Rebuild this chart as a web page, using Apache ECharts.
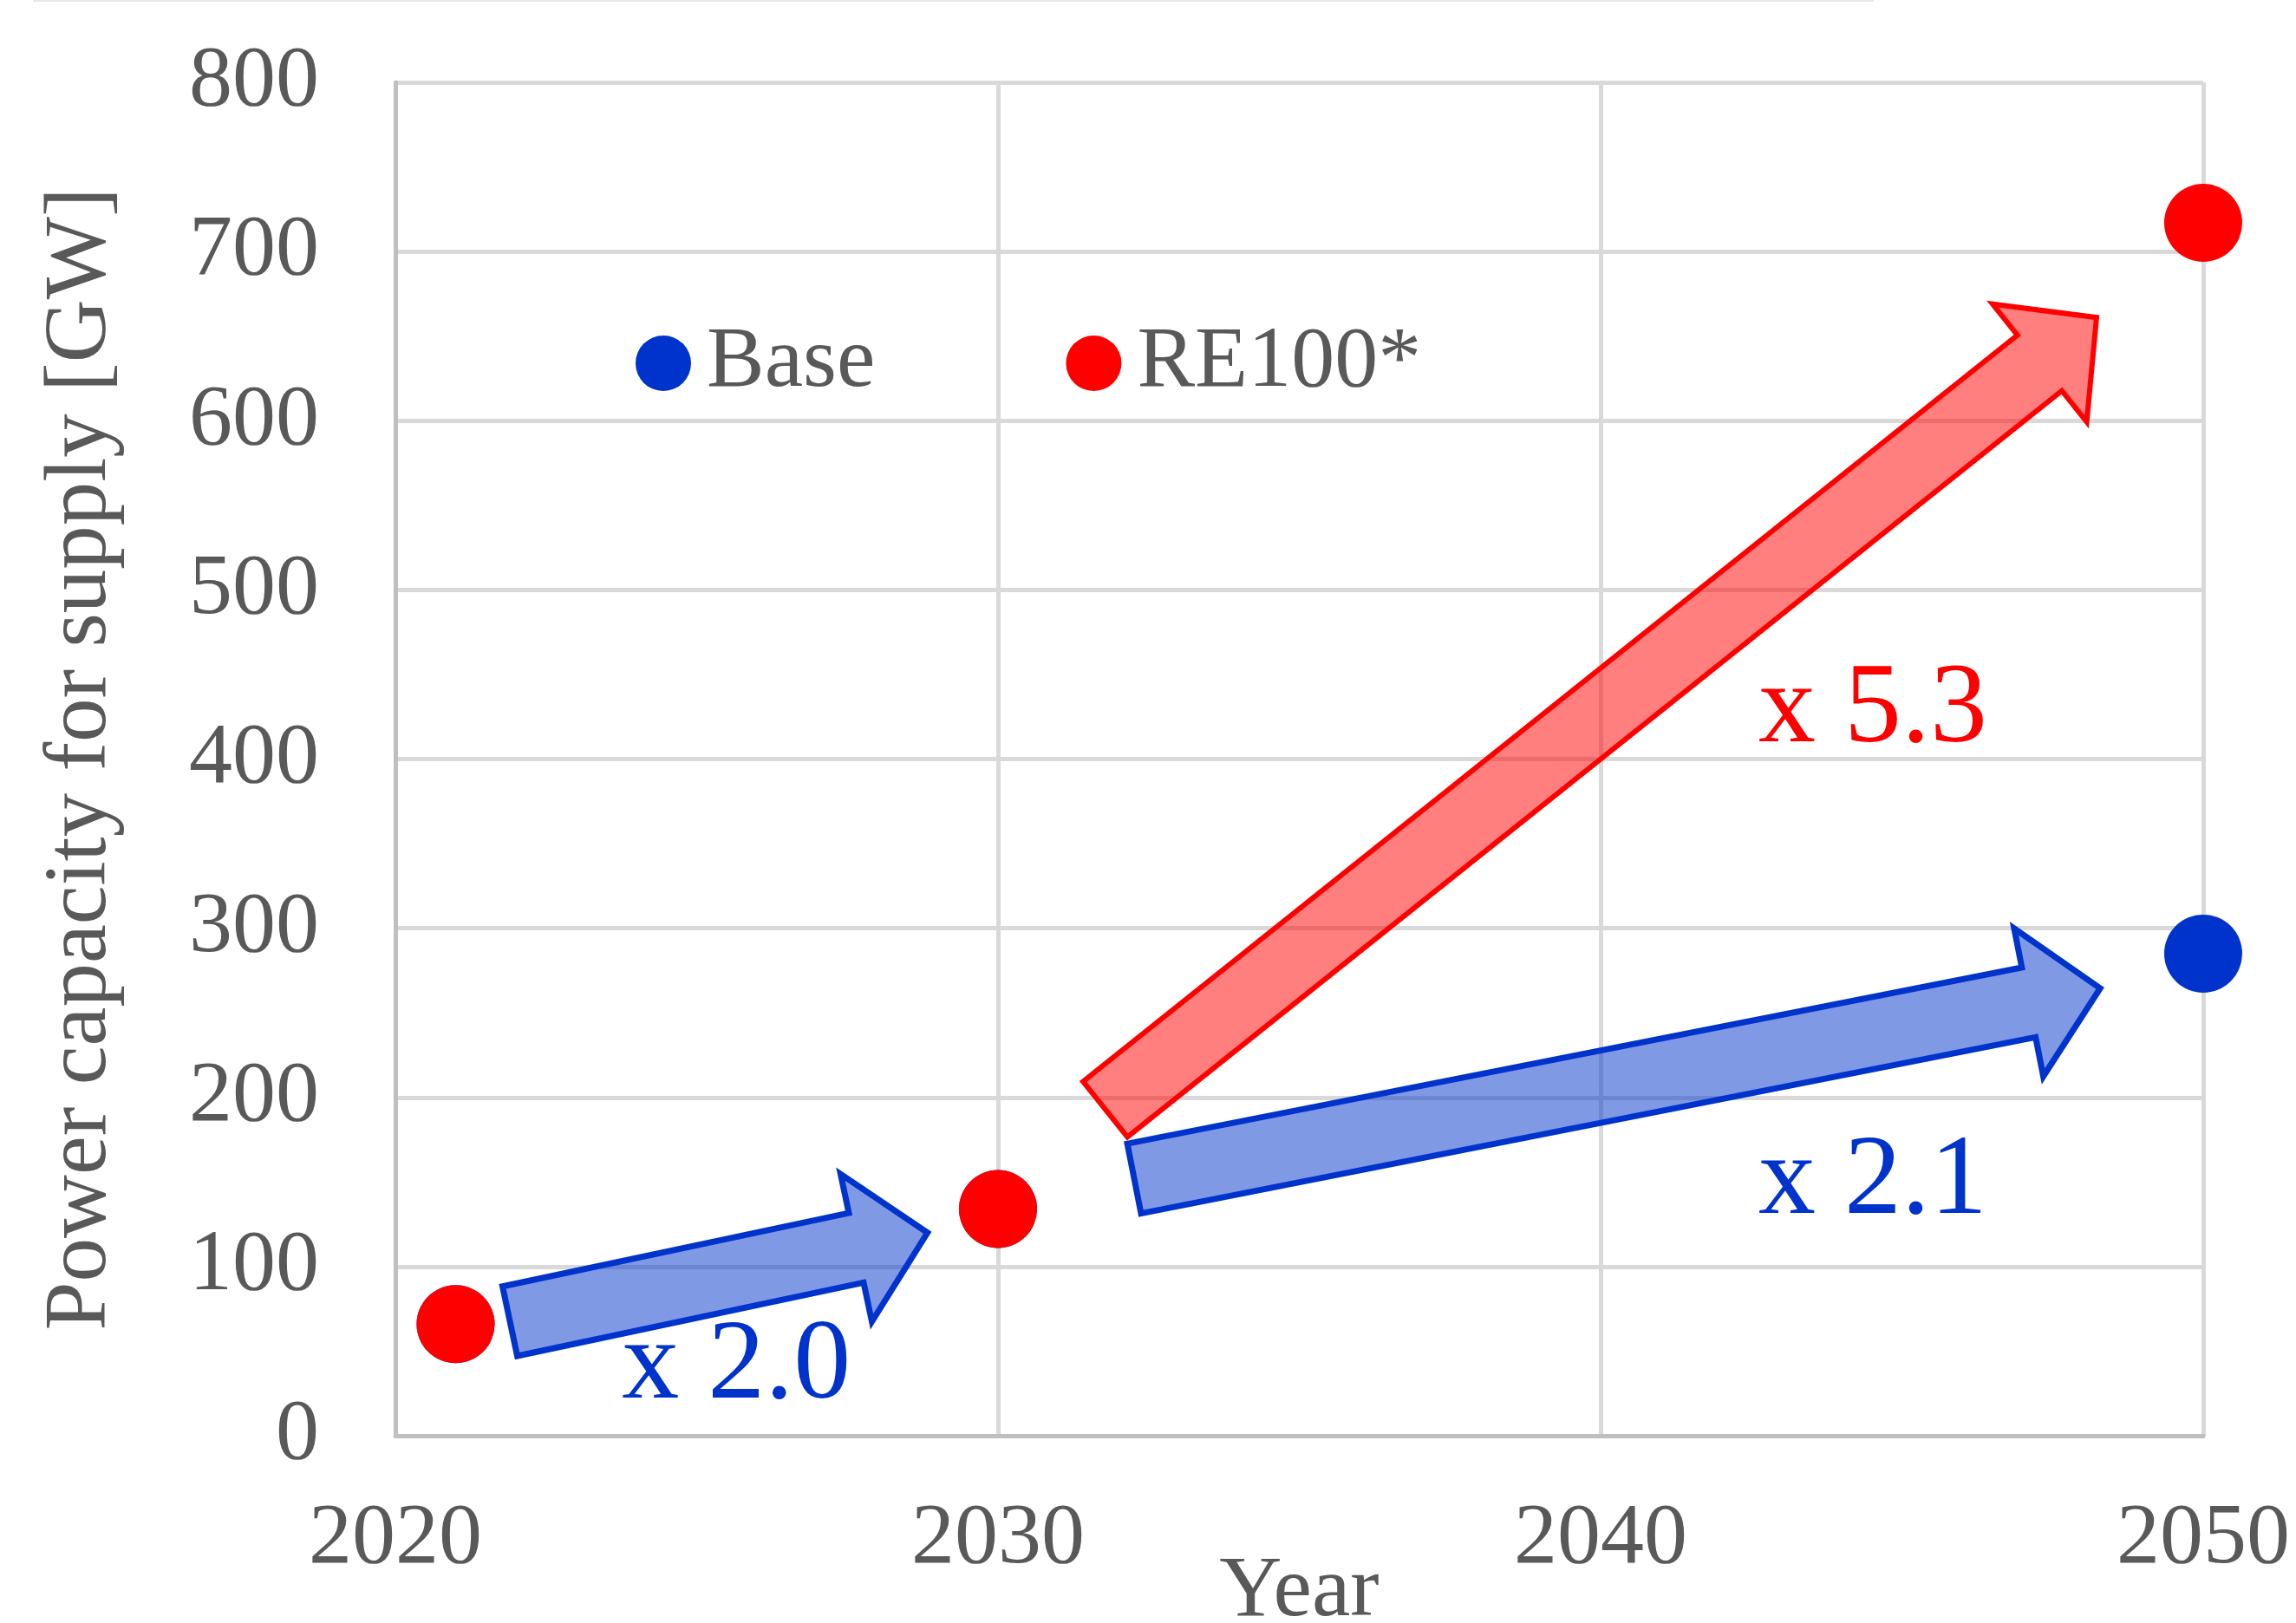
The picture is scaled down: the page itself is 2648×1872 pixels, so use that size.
<!DOCTYPE html>
<html>
<head>
<meta charset="utf-8">
<title>Power capacity for supply</title>
<script src="https://cdn.jsdelivr.net/npm/echarts@6/dist/echarts.min.js"></script>
<style>
  html, body { margin: 0; padding: 0; background: #fff; }
  #chart { width: 2648px; height: 1872px; }
</style>
</head>
<body>
<div id="chart"></div>
<script>
// data
const years = [2021, 2030, 2050];
const baseValues = [66, 134, 285];
const re100Values = [66, 134, 717];
const seriesNames = ['Base', 'RE100*'];
const xTicks = [2020, 2030, 2040, 2050];
const yTicks = [0, 100, 200, 300, 400, 500, 600, 700, 800];

// growth arrows (tail and tip in year / GW)
const arrowFrom = [[2021.9, 67.7], [2031.78, 193], [2032.26, 152]];
const arrowTo = [[2028.83, 120], [2048.23, 661], [2048.29, 264.5]];
const arrowKind = ['base', 're', 'base'];
const ratioText = ['x 2.0', 'x 5.3', 'x 2.1'];
const ratioAt = [[2023.76, 19], [2042.62, 407], [2042.62, 128]];
const ratioKind = ['base', 're', 'base'];

const FONT = '"Liberation Serif", "Times New Roman", serif';
const GREY = '#595959';
const COLORS = {
  base: { line: '#0033cc', fill: 'rgba(0, 51, 204, 0.5)' },
  re: { line: '#ff0000', fill: 'rgba(255, 0, 0, 0.5)' }
};

const chart = echarts.init(document.getElementById('chart'));

const option = {
  animation: false,
  backgroundColor: '#fff',
  grid: {
    left: 456, right: 107, top: 95, bottom: 216,
    containLabel: false,
    outerBoundsMode: 'none'
  },
  legend: {
    data: seriesNames,
    left: 728,
    top: 364,
    itemWidth: 64,
    itemHeight: 64,
    itemGap: 220,
    textStyle: { fontFamily: FONT, fontSize: 100, color: GREY, padding: [0, 0, 0, 13] }
  },
  xAxis: {
    type: 'value',
    min: xTicks[0],
    max: xTicks[xTicks.length - 1],
    interval: 10,
    name: 'Year',
    nameLocation: 'middle',
    nameGap: 131,
    nameMoveOverlap: false,
    nameTextStyle: { fontFamily: FONT, fontSize: 100, color: GREY },
    axisLine: { show: true, lineStyle: { color: '#bfbfbf', width: 5 } },
    axisTick: { show: false },
    axisLabel: {
      fontFamily: FONT, fontSize: 100, color: GREY, margin: 70,
      formatter: v => String(v)
    },
    splitLine: { show: true, lineStyle: { color: '#d9d9d9', width: 5 } }
  },
  yAxis: {
    type: 'value',
    min: yTicks[0],
    max: yTicks[yTicks.length - 1],
    interval: 100,
    name: 'Power capacity for supply [GW]',
    nameLocation: 'middle',
    nameGap: 311,
    nameMoveOverlap: false,
    nameTextStyle: { fontFamily: FONT, fontSize: 101, color: GREY },
    axisLine: { show: true, lineStyle: { color: '#bfbfbf', width: 5 } },
    axisTick: { show: false },
    axisLabel: { fontFamily: FONT, fontSize: 100, color: GREY, margin: 88 },
    splitLine: { show: true, lineStyle: { color: '#d9d9d9', width: 5 } }
  },
  series: [
    {
      name: seriesNames[0],
      type: 'scatter',
      symbol: 'circle',
      symbolSize: 90,
      itemStyle: { color: COLORS.base.line, opacity: 1 },
      data: years.map((y, i) => [y, baseValues[i]]),
      z: 2
    },
    {
      name: seriesNames[1],
      type: 'scatter',
      symbol: 'circle',
      symbolSize: 90,
      itemStyle: { color: COLORS.re.line, opacity: 1 },
      data: years.map((y, i) => [y, re100Values[i]]),
      z: 3
    }
  ]
};

chart.setOption(option);

// block arrow polygon from tail to tip, in pixels
const makeArrow = (from, to, kind) => {
  const t = chart.convertToPixel({ gridIndex: 0 }, from);
  const p = chart.convertToPixel({ gridIndex: 0 }, to);
  const dx = p[0] - t[0];
  const dy = p[1] - t[1];
  const len = Math.sqrt(dx * dx + dy * dy);
  const ux = dx / len, uy = dy / len;
  const nx = -uy, ny = ux;
  const shaft = 41, head = 87, headLen = 84;
  const bx = t[0] + ux * (len - headLen);
  const by = t[1] + uy * (len - headLen);
  const pts = [
    [t[0] + nx * shaft, t[1] + ny * shaft],
    [bx + nx * shaft, by + ny * shaft],
    [bx + nx * head, by + ny * head],
    [p[0], p[1]],
    [bx - nx * head, by - ny * head],
    [bx - nx * shaft, by - ny * shaft],
    [t[0] - nx * shaft, t[1] - ny * shaft]
  ];
  return {
    type: 'polygon',
    shape: { points: pts },
    style: {
      fill: COLORS[kind].fill,
      stroke: COLORS[kind].line,
      lineWidth: kind === 're' ? 6 : 7,
      lineJoin: 'miter'
    },
    z: 10
  };
};

const graphics = [];

// faint rule along the very top of the picture
graphics.push({
  type: 'line',
  shape: { x1: 38, y1: 1, x2: 2161, y2: 1 },
  style: { stroke: '#e4e7eb', lineWidth: 2 },
  z: 1
});

arrowFrom.forEach((f, i) => {
  graphics.push(makeArrow(f, arrowTo[i], arrowKind[i]));
});

ratioText.forEach((txt, i) => {
  const pos = chart.convertToPixel({ gridIndex: 0 }, ratioAt[i]);
  graphics.push({
    type: 'text',
    x: pos[0],
    y: pos[1] - 42,
    style: {
      text: txt,
      font: '132px ' + FONT,
      fill: COLORS[ratioKind[i]].line,
      align: 'left',
      verticalAlign: 'middle'
    },
    z: 20
  });
});

chart.setOption({ graphic: graphics });

window.addEventListener('resize', () => chart.resize());
</script>
</body>
</html>
